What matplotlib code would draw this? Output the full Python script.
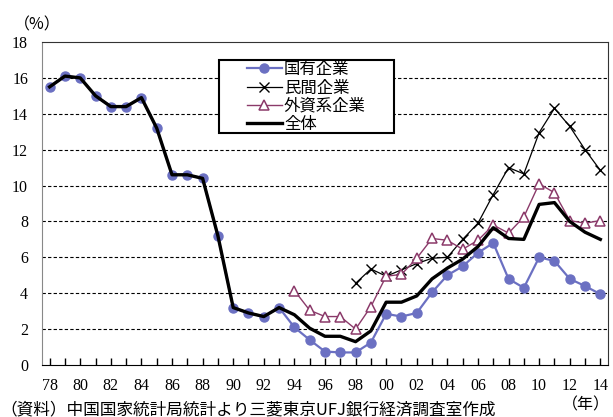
import numpy as np
import matplotlib
matplotlib.use("Agg")
import matplotlib.pyplot as plt
from matplotlib.patches import Rectangle

plt.rcParams["font.family"] = ["Noto Sans CJK JP", "DejaVu Sans"]

years = np.arange(1978, 2015)
state = [15.5, 16.1, 16.0, 15.0, 14.4, 14.4, 14.9, 13.2, 10.6, 10.6, 10.4, 7.2,
         3.2, 2.9, 2.7, 3.2, 2.1, 1.4, 0.75, 0.7, 0.7, 1.25, 2.85, 2.7, 2.9,
         4.05, 5.0, 5.5, 6.25, 6.8, 4.8, 4.3, 6.0, 5.8, 4.8, 4.4, 3.95]
overall = [15.5, 16.1, 16.0, 15.0, 14.4, 14.4, 14.9, 13.2, 10.6, 10.6, 10.4, 7.2,
           3.2, 2.9, 2.7, 3.2, 2.8, 2.05, 1.6, 1.6, 1.3, 1.9, 3.5, 3.5, 3.85,
           4.8, 5.4, 5.9, 6.6, 7.65, 7.05, 7.0, 8.95, 9.05, 8.0, 7.4, 7.0]
private_years = np.arange(1998, 2015)
private = [4.55, 5.35, 4.95, 5.3, 5.65, 5.95, 6.0, 7.0, 7.9, 9.5, 11.0, 10.65,
           12.95, 14.3, 13.3, 12.0, 10.85]
foreign_years = np.arange(1994, 2015)
foreign = [4.15, 3.05, 2.7, 2.7, 2.0, 3.25, 4.95, 5.05, 5.95, 7.05, 6.95, 6.45,
           6.95, 7.8, 7.35, 8.25, 10.1, 9.6, 8.05, 7.9, 8.05]

labels = ["国有企業", "民間企業", "外資系企業", "全体"]
num_font = "Liberation Serif"

fig = plt.figure(figsize=(6.13, 4.17), dpi=100)
ax = fig.add_axes([0.0685, 0.1247, 0.9233, 0.7746])

blue = "#6B70C2"
maroon = "#8B3A6A"

ax.plot(years, state, color=blue, lw=1.6, marker="o", ms=6.5,
        markerfacecolor=blue, markeredgecolor=blue, label=labels[0], zorder=3)
ax.plot(private_years, private, color="black", lw=0.9, marker="x", ms=6.5,
        markeredgewidth=1.0, label=labels[1], zorder=4)
ax.plot(foreign_years, foreign, color=maroon, lw=1.0, marker="^", ms=7.5,
        markerfacecolor="white", markeredgecolor=maroon, markeredgewidth=1.1,
        label=labels[2], zorder=4)
ax.plot(years, overall, color="black", lw=2.4, label=labels[3], zorder=5)

ax.set_xlim(1977.5, 2014.5)
ax.set_ylim(0, 18)
ax.set_yticks(np.arange(0, 19, 2))
ax.set_yticklabels([str(v) for v in range(0, 19, 2)], fontfamily=num_font, fontsize=11.5)
major = np.arange(1978, 2015, 2)
ax.set_xticks(major)
ax.set_xticklabels([f"{y % 100:02d}" for y in major], fontfamily=num_font, fontsize=11.5)
ax.set_xticks(years, minor=True)
ax.tick_params(axis="x", which="both", direction="in", length=5, width=1, pad=9)
ax.tick_params(axis="y", length=0, pad=10)

for v in range(2, 18, 2):
    ax.axhline(v, color="black", lw=0.8, ls=(0, (3, 2)), zorder=1)

ax.spines["left"].set_color("#888888")
for side in ("top", "right"):
    ax.spines[side].set_color("#333333")
ax.spines["bottom"].set_color("black")

# legend box drawn separately (wider on the right than the text)
ax.add_patch(Rectangle((0.3133, 0.7192), 0.3087, 0.2251, transform=ax.transAxes,
                       facecolor="white", edgecolor="black", lw=1.5, zorder=6))
leg = ax.legend(loc="upper left", bbox_to_anchor=(0.3617, 0.9406), fontsize=11.8,
                frameon=False, handlelength=2.13, handletextpad=0.14,
                labelspacing=0.08, borderpad=0, borderaxespad=0)
leg.set_zorder(7)

fig.text(0.022, 0.94, "（%）", fontsize=11.5, ha="left", va="center")
fig.text(0.995, 0.028, "（年）", fontsize=11.5, ha="right", va="center")
fig.text(0.0, 0.018, "（資料）中国国家統計局統計より三菱東京UFJ銀行経済調査室作成",
         fontsize=12, ha="left", va="center")

fig.savefig("out.png", dpi=100)
